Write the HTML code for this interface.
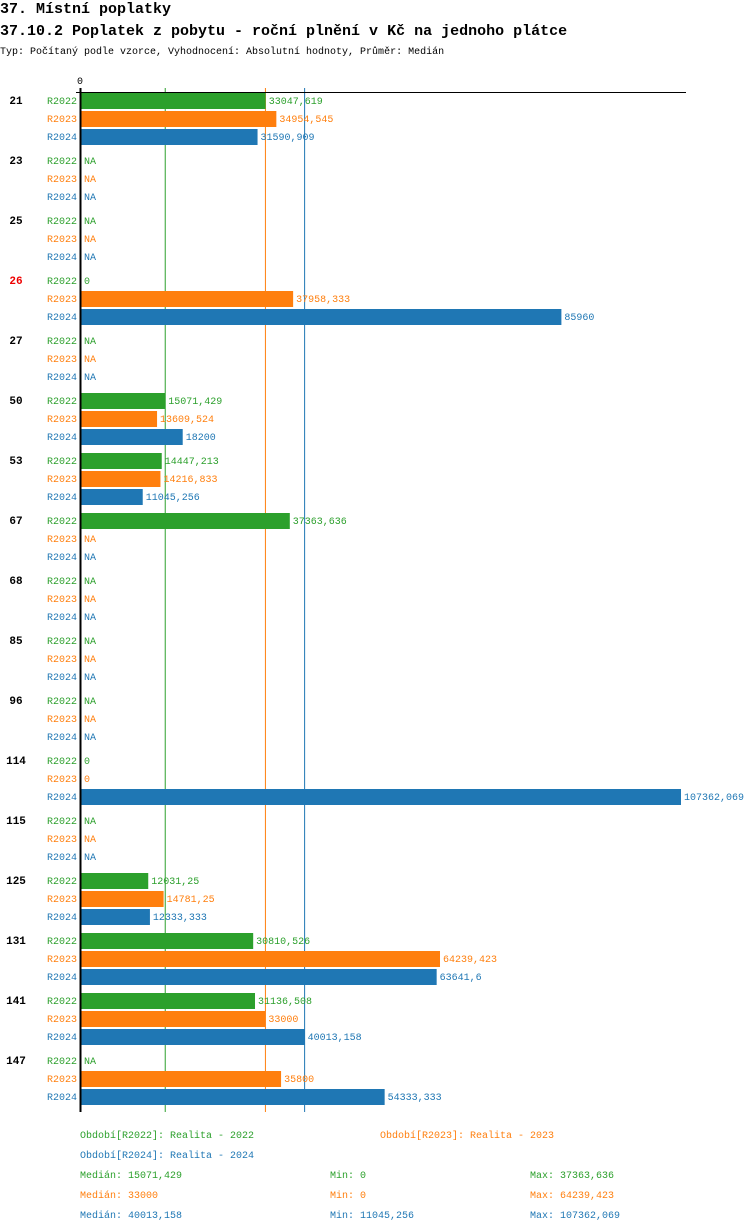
<!DOCTYPE html>
<html><head><meta charset="utf-8"><style>
body{margin:0;background:#fff;width:750px;height:1232px;overflow:hidden}
svg{display:block;font-family:"Liberation Mono","DejaVu Sans Mono",monospace}
</style></head><body>
<svg id="c" width="750" height="1232">
<text x="0" y="13" font-size="15" font-weight="bold">37. Místní poplatky</text>
<text x="0" y="35" font-size="15" font-weight="bold">37.10.2 Poplatek z pobytu - roční plnění v Kč na jednoho plátce</text>
<text x="0" y="54" font-size="10">Typ: Počítaný podle vzorce, Vyhodnocení: Absolutní hodnoty, Průměr: Medián</text>
</svg>
<script>
const categories=["21","23","25","26","27","50","53","67","68","85","96","114","115","125","131","141","147"];
const highlighted=["26"];
const seriesNames=["R2022","R2023","R2024"];
const s2022=[33047.619,null,null,0,null,15071.429,14447.213,37363.636,null,null,null,0,null,12031.25,30810.526,31136.508,null];
const s2023=[34954.545,null,null,37958.333,null,13609.524,14216.833,null,null,null,null,0,null,14781.25,64239.423,33000,35800];
const s2024=[31590.909,null,null,85960,null,18200,11045.256,null,null,null,null,107362.069,null,12333.333,63641.6,40013.158,54333.333];
const medians=[15071.429,33000,40013.158];
const mins=[0,0,11045.256];
const maxs=[37363.636,64239.423,107362.069];
const legendLabels=["Období[R2022]: Realita - 2022","Období[R2023]: Realita - 2023","Období[R2024]: Realita - 2024"];
const colors=["#2ca02c","#ff7f0e","#1f77b4"];
const series=[s2022,s2023,s2024];
const svg=document.getElementById('c');const NS="http://www.w3.org/2000/svg";
const X0=81,XMAX=107362.069,XW=600;
const x=v=>X0+v/XMAX*XW;
const gy=i=>92+i*60;
function fmt(v){return String(v).replace('.',',');}
function mk(t,a,txt){const e=document.createElementNS(NS,t);for(const k in a)e.setAttribute(k,a[k]);if(txt!=null)e.textContent=txt;svg.appendChild(e);return e;}
const yEnd=gy(categories.length);
let e=mk('text',{x:80,y:84,'font-size':10,'text-anchor':'middle'},'0');

medians.forEach((m,j)=>{let l=mk('line',{x1:x(m),x2:x(m),y1:88,y2:yEnd,stroke:colors[j],'stroke-width':1});
 });
categories.forEach((c,i)=>{
 let t=mk('text',{x:16,y:gy(i)+12,'font-size':11,'font-weight':'bold','text-anchor':'middle',fill:highlighted.includes(c)?'#e00':'#000'},c);
 
 series.forEach((s,j)=>{
  const y=gy(i)+j*18;
  let l=mk('text',{x:77,y:y+12,'font-size':10,'text-anchor':'end',fill:colors[j]},seriesNames[j]);
  
  const v=s[i];let tx=84;
  if(v!=null&&v>0){
   let r=mk('rect',{x:X0,y:y+1,width:x(v)-X0,height:16,fill:colors[j]});
   
   tx=x(v)+3;
  }
  let vt=mk('text',{x:tx,y:y+12,'font-size':10,fill:colors[j]},v==null?'NA':fmt(v));
  
 });
});
e=mk('line',{x1:76,x2:686,y1:92.5,y2:92.5,stroke:'#000','stroke-width':1});

e=mk('line',{x1:80.5,x2:80.5,y1:88,y2:yEnd,stroke:'#000','stroke-width':2});

const lp=[[80,1138],[380,1138],[80,1158]];
legendLabels.forEach((t,j)=>{let l=mk('text',{x:lp[j][0],y:lp[j][1],'font-size':10,fill:colors[j]},t);
 });
colors.forEach((c,j)=>{const y=1178+j*20;
 let a=mk('text',{x:80,y:y,'font-size':10,fill:c},'Medián: '+fmt(medians[j]));
 let b=mk('text',{x:330,y:y,'font-size':10,fill:c},'Min: '+fmt(mins[j]));
 let d=mk('text',{x:530,y:y,'font-size':10,fill:c},'Max: '+fmt(maxs[j]));
});
</script>
</body></html>
